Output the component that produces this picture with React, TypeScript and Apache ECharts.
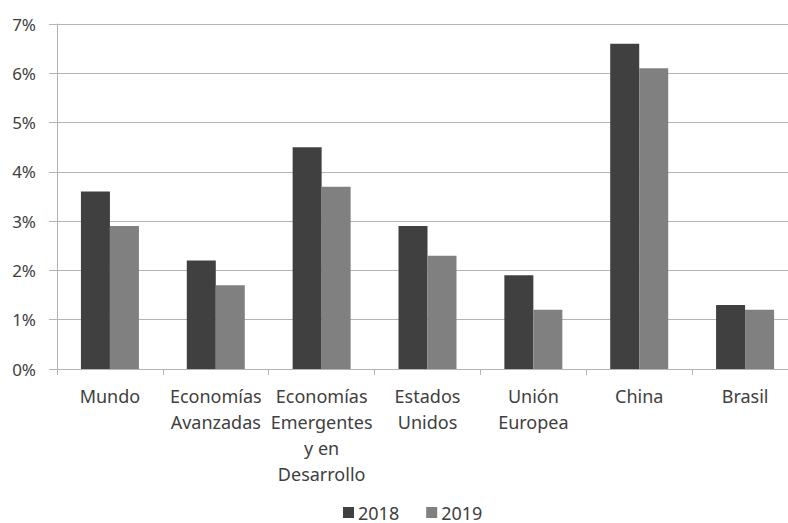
import React, { useEffect, useRef } from "react";
import * as echarts from "echarts";

const categories = [
  "Mundo",
  "Economías\nAvanzadas",
  "Economías\nEmergentes\ny en\nDesarrollo",
  "Estados\nUnidos",
  "Unión\nEuropea",
  "China",
  "Brasil",
];
const series2018 = [3.6, 2.2, 4.5, 2.9, 1.9, 6.6, 1.3];
const series2019 = [2.9, 1.7, 3.7, 2.3, 1.2, 6.1, 1.2];
const seriesNames = ["2018", "2019"];

const FONT = "'Noto Sans', 'Open Sans', sans-serif";

export default function App() {
  const ref = useRef<HTMLDivElement>(null);
  useEffect(() => {
    if (!ref.current) return;
    const chart = echarts.init(ref.current, undefined, { renderer: "svg" });
    chart.setOption({
      animation: false,
      backgroundColor: "#ffffff",
      textStyle: { fontFamily: FONT },
      grid: { left: 57, top: 24, width: 741, height: 345, containLabel: false },
      legend: {
        left: 343,
        top: 503,
        itemWidth: 11,
        itemHeight: 11,
        itemGap: 27,
        icon: "rect",
        padding: 0,
        textStyle: {
          fontFamily: FONT,
          fontSize: 18,
          lineHeight: 19,
          color: "#404040",
          padding: [0, 0, 0, -1],
        },
        data: seriesNames,
      },
      xAxis: {
        type: "category",
        data: categories,
        axisLine: { show: true, lineStyle: { color: "#b3b3b3", width: 1 } },
        axisTick: { show: true, length: 6, lineStyle: { color: "#b3b3b3" } },
        axisLabel: {
          interval: 0,
          margin: 14,
          fontFamily: FONT,
          fontSize: 18,
          lineHeight: 26,
          color: "#404040",
        },
      },
      yAxis: {
        type: "value",
        min: 0,
        max: 7,
        interval: 1,
        axisLine: { show: true, lineStyle: { color: "#b3b3b3", width: 1 } },
        axisTick: { show: true, length: 8, inside: false, lineStyle: { color: "#b3b3b3" } },
        splitLine: { show: true, lineStyle: { color: "#b3b3b3", width: 1 } },
        axisLabel: {
          margin: 21,
          fontFamily: FONT,
          fontSize: 17,
          color: "#404040",
          formatter: (v: number) => `${v}%`,
        },
      },
      series: [
        {
          name: seriesNames[0],
          type: "bar",
          data: series2018,
          barWidth: 29,
          barGap: "0%",
          itemStyle: { color: "#404040" },
        },
        {
          name: seriesNames[1],
          type: "bar",
          data: series2019,
          barWidth: 29,
          barGap: "0%",
          itemStyle: { color: "#808080" },
        },
      ],
    });
    return () => chart.dispose();
  }, []);
  return (
    <div
      ref={ref}
      style={{ position: "absolute", left: 0, top: 0, width: 810, height: 523 }}
    />
  );
}
